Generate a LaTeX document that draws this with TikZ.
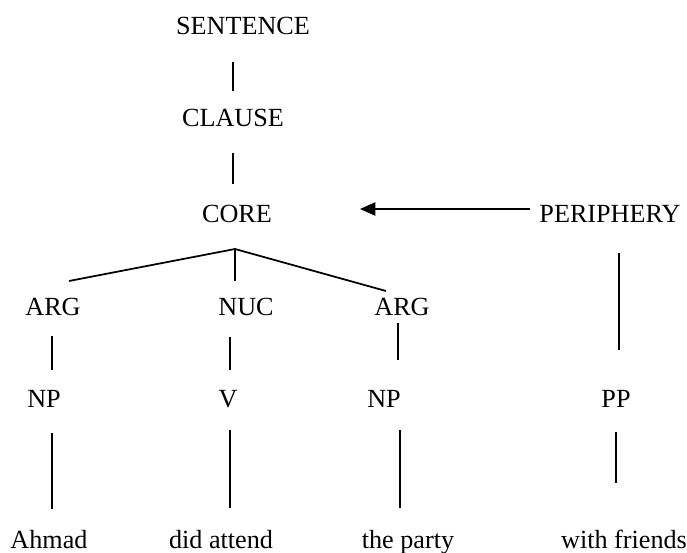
\documentclass[tikz,border=0pt,12pt]{standalone}
\usepackage{fontspec}
\setmainfont{Liberation Serif}
\usetikzlibrary{arrows.meta}

\tikzset{lbl/.style={anchor=base,inner sep=0pt,font=\fontsize{12}{14}\selectfont},
  edge/.style={line width=0.8pt}}

\begin{document}
\begin{tikzpicture}[x=0.4585pt,y=-0.4585pt]
\useasboundingbox (0,0) rectangle (687,553);

\node[lbl] (sentence) at (243,35) {SENTENCE};
\node[lbl] (clause) at (233,127) {CLAUSE};
\node[lbl] (core) at (237,222) {CORE};
\node[lbl] (periphery) at (610,222) {PERIPHERY};

\node[lbl] (arga) at (53,315) {ARG};
\node[lbl] (nuc) at (246,315) {NUC};
\node[lbl] (argb) at (402,315) {ARG};

\node[lbl] (npa) at (44,407) {NP};
\node[lbl] (verb) at (228,407) {V};
\node[lbl] (npb) at (384,407) {NP};
\node[lbl] (pp) at (616,407) {PP};

\node[lbl] (ahmad) at (49,548) {Ahmad};
\node[lbl] (attend) at (221,548) {did attend};
\node[lbl] (party) at (408,548) {the party};
\node[lbl] (friends) at (624,548) {with friends};

% line ends
\coordinate (s1) at (233,62);   \coordinate (s2) at (233,91);
\coordinate (c1) at (233,153);  \coordinate (c2) at (233,184);
\coordinate (top) at (235,249);
\coordinate (a1) at (69,281);   \coordinate (n1) at (235,281);
\coordinate (b1) at (386,291);
\coordinate (a2) at (52,336);   \coordinate (a3) at (52,370);
\coordinate (n2) at (230,337);  \coordinate (n3) at (230,370);
\coordinate (b2) at (398,323);  \coordinate (b3) at (398,360);
\coordinate (a4) at (52,433);   \coordinate (a5) at (52,509);
\coordinate (n4) at (230,430);  \coordinate (n5) at (230,508);
\coordinate (b4) at (400,430);  \coordinate (b5) at (400,508);
\coordinate (p1) at (619,253);  \coordinate (p2) at (619,350);
\coordinate (p3) at (616,432);  \coordinate (p4) at (616,483);
\coordinate (arr1) at (530,209); \coordinate (arr2) at (360,209);

\draw[edge] (s1) -- (s2);
\draw[edge] (c1) -- (c2);
\draw[edge] (a1) -- (top) -- (b1);
\draw[edge] (top) -- (n1);
\draw[edge] (a2) -- (a3);
\draw[edge] (n2) -- (n3);
\draw[edge] (b2) -- (b3);
\draw[edge] (a4) -- (a5);
\draw[edge] (n4) -- (n5);
\draw[edge] (b4) -- (b5);
\draw[edge] (p1) -- (p2);
\draw[edge] (p3) -- (p4);
\draw[edge,-{Triangle[length=7pt,width=6pt]}] (arr1) -- (arr2);
\end{tikzpicture}
\end{document}
